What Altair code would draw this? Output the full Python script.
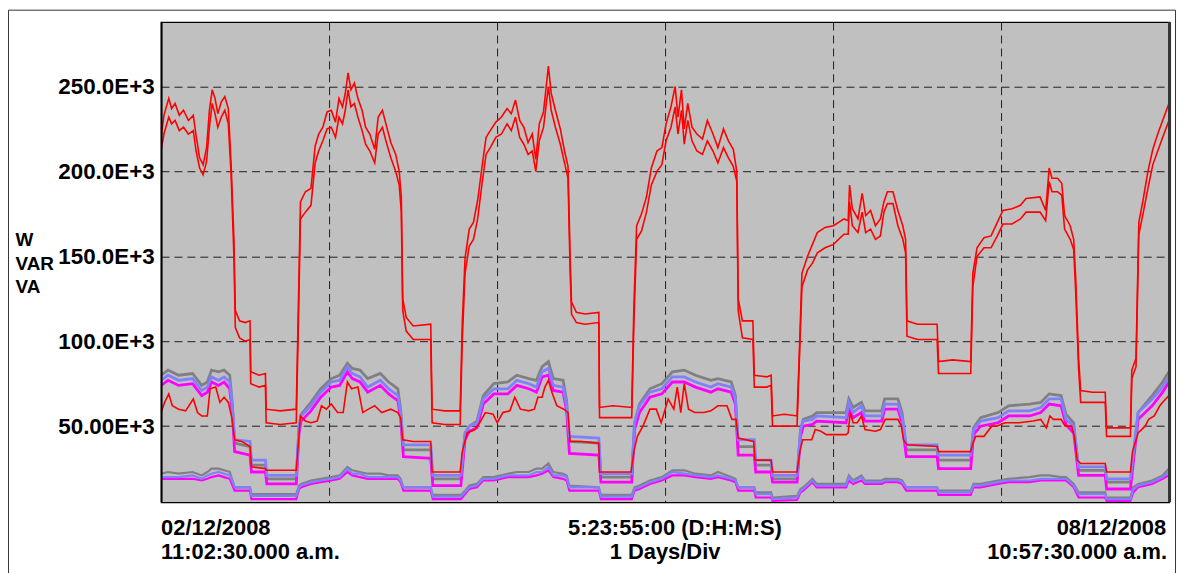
import altair as alt
import pandas as pd

# ---------------- data (values in thousands: W / VAR / VA) ----------------
TICK_VALUES = [50, 100, 150, 200, 250]
TICK_LABELS = ["50.00E+3", "100.0E+3", "150.0E+3", "200.0E+3", "250.0E+3"]
DAY_LINES = [24, 48, 72, 96, 120]          # hours, 1 day / div
SPAN_HOURS = 143.917                       # 5:23:55:00
Y_RANGE = [5.2, 287.9]

# hour, VA total, W total (upper red pair)
RED_TOTALS = [
    (0.0, 220, 212), (0.4, 233, 222), (1.1, 243, 232), (1.5, 237, 228), (2.0, 240, 230),
    (2.6, 233, 224), (3.2, 236, 226), (3.9, 230, 222), (4.6, 233, 224), (5.0, 221, 212),
    (5.5, 208, 202), (6.0, 204, 198), (6.5, 214, 206), (6.9, 236, 226), (7.3, 248, 240),
    (7.7, 243, 234), (8.1, 234, 226), (8.6, 241, 232), (9.1, 244, 236), (9.6, 237, 228),
    (10.0, 204, 198), (10.4, 160, 150), (10.6, 118, 108), (11.2, 112, 102), (12.0, 111, 100),
    (12.7, 112, 101), (12.8, 82, 75), (14.0, 80, 73), (14.9, 81, 74), (15.0, 60, 52),
    (17.0, 59, 51), (19.3, 60, 52), (19.6, 120, 110), (19.9, 182, 172), (20.6, 188, 176),
    (21.4, 190, 180), (22.0, 215, 205), (22.5, 222, 212), (23.1, 226, 218), (23.7, 235, 225),
    (24.3, 236, 226), (24.9, 229, 220), (25.4, 243, 232), (25.9, 238, 228), (26.3, 246, 236),
    (26.7, 258, 248), (27.1, 248, 238), (27.6, 252, 240), (28.1, 243, 232), (28.7, 236, 224),
    (29.2, 226, 216), (29.8, 222, 212), (30.5, 213, 205), (31.0, 232, 222), (31.6, 236, 226),
    (32.1, 228, 218), (32.8, 217, 208), (33.5, 210, 200), (34.0, 200, 192), (34.3, 185, 176),
    (34.5, 125, 118), (35.0, 114, 106), (36.0, 109, 101), (38.5, 110, 101), (38.7, 60, 52),
    (40.5, 59, 51), (42.7, 59, 51), (43.0, 110, 100), (43.4, 149, 140), (44.0, 166, 156),
    (44.6, 170, 160), (45.2, 183, 172), (45.8, 202, 192), (46.4, 220, 210), (47.0, 224, 214),
    (47.8, 229, 220), (48.6, 232, 222), (49.4, 237, 228), (50.0, 234, 224), (50.6, 242, 232),
    (51.2, 230, 220), (51.8, 226, 216), (52.4, 217, 210), (53.0, 222, 212), (53.5, 207, 200),
    (54.0, 228, 218), (54.6, 235, 226), (55.3, 262, 250), (55.7, 246, 236), (56.3, 236, 226),
    (57.0, 225, 216), (57.6, 212, 205), (58.1, 203, 196), (58.4, 150, 142), (58.6, 123, 116),
    (59.3, 117, 111), (60.5, 116, 110), (62.5, 117, 111), (62.6, 61, 55), (64.5, 62, 55),
    (67.2, 61, 55), (67.5, 120, 110), (67.9, 168, 160), (68.6, 175, 165), (69.3, 185, 176),
    (70.0, 202, 192), (70.8, 212, 200), (71.5, 214, 204), (72.1, 228, 218), (72.8, 238, 226),
    (73.4, 250, 238), (73.8, 232, 222), (74.3, 248, 236), (74.7, 225, 216), (75.2, 240, 230),
    (75.8, 226, 218), (76.5, 222, 212), (77.3, 219, 210), (78.0, 230, 218), (78.8, 222, 212),
    (79.5, 214, 205), (80.3, 225, 214), (81.0, 218, 208), (81.7, 213, 203), (82.2, 200, 194),
    (82.4, 125, 118), (83.0, 112, 102), (84.5, 112, 101), (84.7, 80, 73), (86.5, 79, 73),
    (87.1, 80, 74), (87.3, 56, 50), (89.0, 57, 50), (90.8, 56, 50), (91.1, 90, 85),
    (91.5, 140, 132), (92.3, 150, 142), (93.0, 157, 146), (93.7, 164, 152), (94.8, 167, 155),
    (96.0, 168, 157), (97.5, 172, 163), (98.1, 171, 163), (98.3, 192, 182), (98.7, 178, 168),
    (99.5, 172, 164), (100.1, 187, 176), (100.6, 174, 164), (101.3, 177, 166), (102.0, 168, 160),
    (102.7, 172, 162), (103.2, 182, 176), (103.7, 188, 181), (104.5, 188, 181), (105.2, 177, 168),
    (105.9, 168, 160), (106.3, 160, 152), (106.5, 112, 103), (108.0, 110, 101), (110.8, 110, 101),
    (111.0, 88, 81), (113.0, 89, 81), (115.6, 88, 81), (115.9, 140, 132), (116.5, 155, 150),
    (117.5, 161, 155), (118.5, 162, 155), (119.4, 170, 162), (120.2, 177, 169), (121.5, 178, 169),
    (122.7, 180, 172), (123.5, 184, 176), (125.5, 185, 176), (126.3, 177, 171), (126.8, 202, 194),
    (127.2, 196, 188), (128.0, 196, 188), (128.6, 193, 186), (129.0, 174, 166), (129.8, 168, 160),
    (130.3, 160, 154), (130.6, 136, 128), (131.0, 90, 84), (131.3, 71, 64), (133.0, 70, 64),
    (134.8, 70, 64), (135.0, 49, 44), (137.0, 49, 44), (138.4, 49, 44), (138.6, 83, 78),
    (139.2, 90, 85), (139.6, 170, 163), (140.2, 183, 175), (140.9, 200, 190), (141.6, 213, 204),
    (142.3, 222, 212), (143.0, 230, 220), (143.9, 240, 230),
]

# hour, lower red trace
RED_MID = [
    (0.0, 58), (0.5, 64), (1.1, 69), (1.6, 62), (2.5, 60), (3.5, 59), (4.6, 66), (5.2, 58), (5.8, 56), (6.6, 56),
    (7.0, 72), (7.8, 73), (8.4, 64), (9.0, 67), (9.6, 64), (10.1, 55), (10.5, 42), (11.5, 41), (12.7, 38), (12.9, 26),
    (14.9, 25), (15.0, 24), (19.3, 24), (19.6, 40), (19.9, 56), (20.6, 53), (21.4, 52), (22.3, 53), (22.9, 62), (23.6, 60),
    (24.3, 63), (25.2, 58), (26.0, 58), (26.6, 76), (27.2, 72), (28.1, 73), (28.8, 58), (29.6, 60), (30.5, 62), (31.5, 58),
    (32.8, 60), (33.8, 58), (34.2, 55), (34.5, 42), (36.0, 41), (38.5, 41), (38.7, 23), (42.7, 23), (43.0, 35), (43.7, 46),
    (44.8, 48), (45.5, 52), (46.3, 58), (47.4, 57), (48.0, 52), (48.8, 58), (49.8, 59), (50.5, 67), (51.3, 60), (52.5, 59),
    (53.3, 60), (53.8, 67), (54.4, 67), (54.8, 73), (55.3, 77), (55.8, 70), (56.5, 62), (57.5, 60), (58.1, 58), (58.4, 41),
    (60.0, 41), (62.5, 40), (62.6, 23), (67.1, 23), (67.5, 35), (68.0, 44), (68.8, 50), (69.8, 60), (70.7, 60), (71.4, 52),
    (72.4, 66), (73.2, 60), (73.7, 73), (74.2, 58), (74.7, 75), (75.3, 60), (76.2, 58), (77.5, 58), (78.5, 59), (79.5, 62),
    (80.8, 62), (81.5, 54), (82.1, 54), (82.4, 43), (84.6, 41), (84.8, 30), (87.1, 30), (87.3, 23), (90.8, 23), (91.2, 35),
    (91.6, 42), (92.9, 42), (93.4, 48), (94.2, 47), (95.0, 45), (96.5, 45), (97.8, 45), (98.1, 46), (98.4, 58), (98.8, 52),
    (99.4, 52), (100.0, 56), (100.5, 48), (102.0, 47), (102.7, 48), (103.4, 54), (105.2, 54), (105.7, 50), (106.0, 42), (106.5, 39),
    (110.8, 38), (111.0, 35), (115.6, 35), (115.9, 40), (116.3, 44), (117.5, 44), (118.6, 50), (119.3, 50), (120.5, 52), (122.5, 52),
    (124.5, 53), (125.6, 54), (126.4, 49), (126.9, 56), (127.4, 54), (128.5, 54), (129.1, 50), (130.0, 50), (130.4, 44), (130.8, 30),
    (131.3, 28), (134.8, 28), (135.0, 23), (138.4, 23), (138.7, 35), (139.5, 46), (140.5, 50), (141.0, 54), (141.8, 56), (142.6, 62),
    (143.2, 65), (143.9, 68),
]

# hour, blue-up, gray-up, magenta-up, blue-low, gray-low, magenta-low
PHASES = [
    (0.0, 77, 80, 74, 20, 22, 19), (1.0, 80, 83, 77, 20, 23, 19), (2.5, 77, 80, 74, 20, 22, 19),
    (4.5, 78, 81, 75, 21, 23, 19), (5.8, 71, 74, 68, 19, 21, 18), (6.6, 73, 76, 70, 21, 23, 19),
    (7.2, 79, 83, 76, 22, 25, 20), (8.2, 77, 82, 74, 23, 25, 21), (9.0, 79, 83, 76, 22, 24, 20),
    (9.8, 76, 80, 72, 21, 23, 19), (10.2, 60, 62, 56, 17, 18, 15), (10.5, 42, 40, 35, 14, 14, 12),
    (12.7, 41, 38, 33, 14, 14, 12), (12.9, 30, 27, 23, 9, 10, 7), (14.9, 30, 27, 23, 9, 10, 7),
    (15.1, 21, 19, 16, 9, 10, 7), (19.3, 21, 19, 16, 9, 10, 7), (19.7, 50, 50, 46, 14, 15, 13),
    (20.0, 56, 57, 53, 15, 16, 14), (21.4, 62, 64, 59, 17, 18, 16), (22.8, 70, 72, 67, 18, 19, 17),
    (24.3, 76, 78, 73, 19, 20, 18), (25.5, 77, 80, 74, 20, 21, 19), (26.6, 85, 87, 82, 25, 26, 23),
    (27.3, 81, 84, 78, 22, 24, 21), (28.4, 79, 83, 76, 22, 23, 20), (29.5, 73, 78, 70, 20, 22, 19),
    (31.3, 77, 81, 74, 20, 22, 19), (32.5, 72, 76, 69, 20, 21, 19), (33.8, 68, 72, 65, 20, 21, 19),
    (34.2, 58, 60, 55, 18, 19, 17), (34.6, 39, 36, 32, 14, 14, 12), (38.5, 39, 36, 31, 14, 14, 12),
    (38.8, 21, 19, 15, 8.5, 9.5, 7), (42.8, 21, 19, 15, 8.5, 9.5, 7), (43.4, 46, 46, 42, 11, 12, 10),
    (44.0, 50, 50, 47, 14, 15, 13), (45.1, 52, 53, 49, 15, 16, 14), (46.0, 66, 68, 63, 19, 20, 18),
    (47.5, 72, 75, 69, 19, 20, 18), (49.5, 72, 76, 69, 21, 22, 20), (50.8, 77, 80, 74, 21, 23, 20),
    (52.5, 75, 78, 72, 21, 23, 20), (53.6, 73, 77, 70, 23, 25, 21), (54.4, 82, 85, 79, 23, 25, 22),
    (55.3, 84, 88, 80, 26, 28, 24), (56.0, 74, 78, 71, 21, 23, 20), (57.4, 73, 77, 70, 21, 22, 19),
    (57.9, 62, 65, 59, 20, 21, 18), (58.3, 44, 41, 34, 14, 15, 12), (62.5, 43, 40, 33, 14, 14, 12),
    (62.8, 22, 20, 17, 8.5, 9.5, 7), (67.2, 22, 20, 17, 8.5, 9.5, 7), (67.6, 52, 52, 48, 13, 14, 12),
    (68.3, 62, 63, 58, 14, 15, 13), (69.8, 70, 72, 67, 17, 18, 16), (71.5, 72, 75, 69, 19, 20, 18),
    (73.0, 79, 82, 76, 23, 24, 21), (74.7, 79, 83, 76, 22, 24, 21), (76.3, 76, 80, 73, 21, 22, 20),
    (78.5, 73, 77, 70, 20, 21, 19), (79.5, 75, 78, 72, 21, 23, 20), (81.4, 73, 76, 70, 19, 20, 18),
    (82.0, 66, 68, 63, 18, 19, 17), (82.4, 42, 38, 33, 14, 14, 12), (84.7, 42, 38, 33, 14, 14, 12),
    (84.9, 30, 27, 23, 10, 11, 8), (87.1, 30, 27, 23, 10, 11, 8), (87.3, 21, 19, 17, 7, 8, 6),
    (90.8, 21, 19, 17, 8, 9, 6.5), (91.3, 48, 48, 44, 12, 13, 11), (91.7, 53, 54, 50, 13, 14, 12),
    (93.0, 54, 56, 51, 18, 19, 17), (93.6, 56, 58, 53, 15, 16, 14), (97.8, 55, 58, 52, 15, 16, 14),
    (98.2, 64, 66, 60, 20, 21, 18), (98.8, 58, 61, 55, 17, 18, 16), (100.0, 62, 64, 58, 20, 21, 18),
    (100.5, 56, 59, 53, 17, 18, 16), (102.9, 56, 59, 53, 17, 18, 16), (103.3, 63, 66, 60, 18, 19, 17),
    (105.2, 63, 66, 60, 18, 19, 17), (105.8, 55, 58, 52, 17, 18, 16), (106.4, 39, 36, 32, 14, 14, 12),
    (110.8, 39, 36, 32, 14, 14, 12), (111.0, 33, 30, 25, 11, 12, 9.5), (115.6, 33, 30, 25, 11, 12, 9.5),
    (116.0, 48, 49, 45, 15, 16, 14), (117.0, 53, 55, 50, 15, 16, 14), (119.5, 55, 58, 52, 17, 18, 16),
    (121.0, 59, 62, 56, 18, 19, 17), (124.0, 59, 63, 56, 18, 20, 17), (125.6, 61, 64, 58, 19, 21, 18),
    (126.8, 66, 69, 63, 19, 21, 18), (128.5, 66, 68, 62, 19, 20, 18), (129.2, 54, 57, 51, 19, 20, 18),
    (130.3, 50, 52, 46, 15, 16, 14), (131.0, 26, 24, 21, 10, 11, 8), (134.8, 26, 24, 21, 10, 11, 8),
    (135.0, 19, 17, 13, 7, 8, 6), (138.4, 19, 17, 13, 7, 8, 6), (138.8, 33, 32, 28, 13, 14, 11),
    (139.5, 58, 58, 54, 15, 16, 14), (141.5, 66, 68, 62, 17, 18, 16), (143.0, 73, 76, 70, 20, 21, 19),
    (143.9, 79, 82, 76, 23, 25, 21),
]

START_TEXT = ["02/12/2008", "11:02:30.000 a.m."]
SPAN_TEXT = ["5:23:55:00 (D:H:M:S)", "1 Days/Div"]
END_TEXT = ["08/12/2008", "10:57:30.000 a.m."]
Y_TITLE = ["W", "VAR", "VA"]

# ---------------- build ----------------
FONT = "Liberation Sans"
W, H = 1014, 483

def long_df(hours, values, name):
    return pd.DataFrame({"hour": hours, "value": values, "series": name})

hrs_t = [r[0] for r in RED_TOTALS]
df_va = long_df(hrs_t, [r[1] for r in RED_TOTALS], "VA total")
df_w = long_df(hrs_t, [r[2] for r in RED_TOTALS], "W total")
df_mid = long_df([r[0] for r in RED_MID], [r[1] for r in RED_MID], "VAR total")
hrs_p = [r[0] for r in PHASES]
df_bu = long_df(hrs_p, [r[1] for r in PHASES], "C up")
df_gu = long_df(hrs_p, [r[2] for r in PHASES], "A up")
df_mu = long_df(hrs_p, [r[3] for r in PHASES], "B up")
df_bl = long_df(hrs_p, [r[4] for r in PHASES], "C low")
df_gl = long_df(hrs_p, [r[5] for r in PHASES], "A low")
df_ml = long_df(hrs_p, [r[6] for r in PHASES], "B low")

label_expr = " : ".join(
    f"datum.value == {v} ? '{l}'" for v, l in zip(TICK_VALUES, TICK_LABELS)
) + " : ''"

xscale = alt.Scale(domain=[0, SPAN_HOURS], nice=False, zero=False)
yscale = alt.Scale(domain=Y_RANGE, nice=False, zero=False)
xaxis = alt.Axis(values=DAY_LINES, labels=False, ticks=False, domain=False,
                 title=None, grid=True)
yaxis = alt.Axis(values=TICK_VALUES, labelExpr=label_expr, ticks=False, domain=False,
                 grid=True, labelFont=FONT, labelFontSize=22.5, labelFontWeight="bold",
                 labelColor="#000000", labelPadding=7,
                 title=Y_TITLE, titleAngle=0, titleAlign="left", titleBaseline="alphabetic",
                 titleX=-147, titleY=224.5, titleLineHeight=24, titleFont=FONT,
                 titleFontSize=19, titleFontWeight="bold", titleColor="#000000")

def X():
    return alt.X("hour:Q", scale=xscale, axis=xaxis)

def Y():
    return alt.Y("value:Q", scale=yscale, axis=yaxis)

def line(df, color, width):
    return alt.Chart(df).mark_line(color=color, strokeWidth=width, clip=True,
                                   strokeJoin="miter").encode(x=X(), y=Y())

layers = [
    line(df_gl, "#808080", 2.2),
    line(df_ml, "#FF00FF", 2.2),
    line(df_bl, "#8080FF", 2.2),
    line(df_gu, "#808080", 2.8),
    line(df_mu, "#FF00FF", 2.8),
    line(df_bu, "#8080FF", 2.8),
    line(df_mid, "#FF0000", 1.6),
    line(df_w, "#FF0000", 1.6),
    line(df_va, "#FF0000", 1.6),
]

def text_layer(hour, txt, align, ypix, dx=0):
    d = pd.DataFrame({"hour": [hour], "t": [txt]})
    return alt.Chart(d).mark_text(align=align, baseline="alphabetic", font=FONT,
                                  fontSize=22, fontWeight="bold", color="#000000",
                                  dx=dx).encode(x=X(), y=alt.value(ypix), text="t:N")

L1, L2 = 516.2, 540.5
layers += [
    text_layer(0, START_TEXT[0], "left", L1),
    text_layer(0, START_TEXT[1], "left", L2),
    text_layer(SPAN_HOURS / 2, SPAN_TEXT[0], "center", L1, dx=10),
    text_layer(SPAN_HOURS / 2, SPAN_TEXT[1], "center", L2, dx=0),
    text_layer(SPAN_HOURS, END_TEXT[0], "right", L1, dx=-3),
    text_layer(SPAN_HOURS, END_TEXT[1], "right", L2, dx=-2),
]

deco = alt.Data(values=[{"k": 1}])
frame = alt.Chart(deco).mark_rect(fillOpacity=0, stroke="#333333", strokeWidth=1).encode(
    x=alt.value(-153.5), x2=alt.value(1020.5), y=alt.value(-12), y2=alt.value(600))
right_edge = alt.Chart(deco).mark_rule(stroke="#333333", strokeWidth=3).encode(
    x=alt.value(W + 0.5), y=alt.value(0), y2=alt.value(H))
left_edge = alt.Chart(deco).mark_rule(stroke="#000000", strokeWidth=2).encode(
    x=alt.value(0.5), y=alt.value(0), y2=alt.value(H))
layers += [frame, right_edge, left_edge]

chart = alt.layer(*layers).properties(
    width=W, height=H,
    autosize=alt.AutoSizeParams(type="none"),
    padding={"left": 154, "top": 12.5, "right": 10, "bottom": 70},
    background="#FFFFFF",
).configure_view(
    fill="#C0C0C0", stroke="#000000", strokeWidth=1.2
).configure_axis(
    gridColor="#000000", gridOpacity=0.85, gridDash=[8, 5], gridWidth=1
)

chart.save("out.html", embed_options={"renderer": "svg", "actions": False})
